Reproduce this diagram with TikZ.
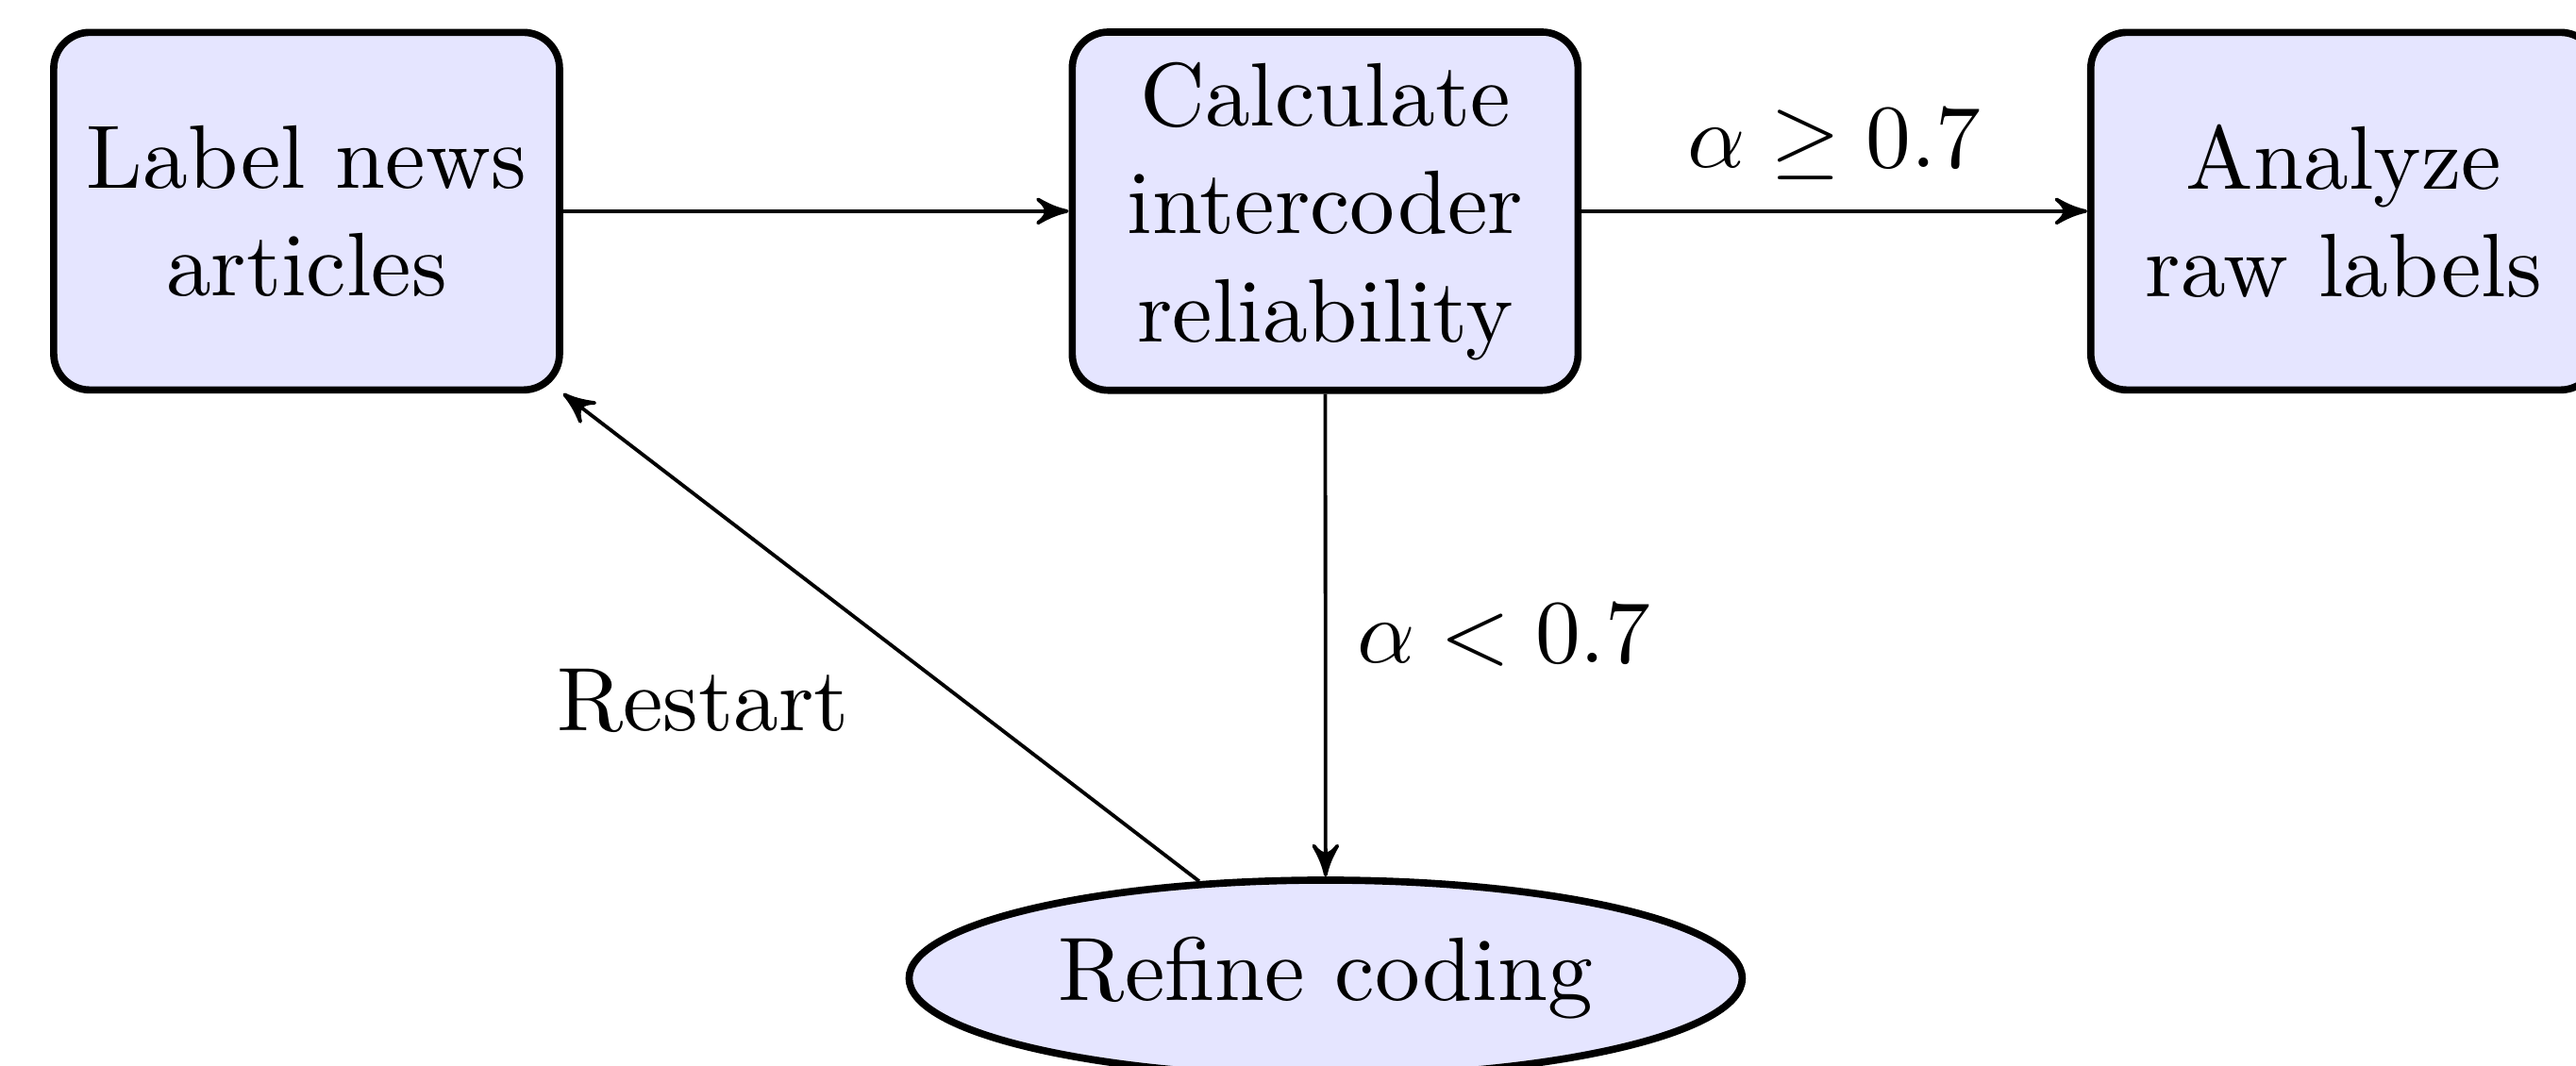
\documentclass[tikz,border=0pt]{standalone}
\usetikzlibrary{arrows,shapes.geometric}

\begin{document}
\begin{tikzpicture}[>=stealth',
    box/.style={draw, thick, fill=blue!10, rounded corners,
      minimum width=1.973cm, minimum height=1.395cm, align=center},
    oval/.style={draw, ellipse, thick, fill=blue!10,
      minimum width=3.25cm, minimum height=0.766cm, inner sep=0pt}]
\useasboundingbox (0,0) rectangle (10.048,-4.159);
\node[box] (1) at (1.196,-0.824) {Label news\\articles};
\node[box] (2) at (5.169,-0.824) {Calculate\\intercoder\\reliability};
\node[box] (3) at (9.142,-0.824) {Analyze\\raw labels};
\node[oval] (4) at (5.171,-3.817) {Refine coding};
\path[draw,->] (1) -- (2);
\path[draw,->] (2) -- node[above] {$\alpha \geq 0.7$} (3);
\path[draw,->] (2) -- node[right] {$\alpha < 0.7$} (4);
\path[draw,->] (4) -- node[below left] {Restart} (1.south east);
\end{tikzpicture}
\end{document}
